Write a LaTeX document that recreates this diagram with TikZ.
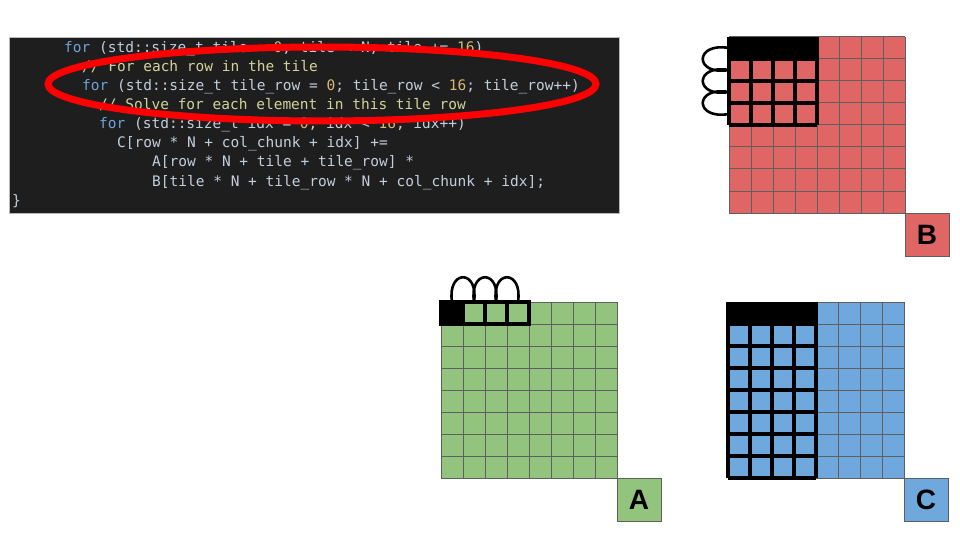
\documentclass[tikz,border=0pt]{standalone}
\usepackage{fontspec}
\newfontfamily\codefont{DejaVu Sans Mono}
\newfontfamily\labfont{Liberation Sans}
\definecolor{cbg}{HTML}{1E1E1E}
\definecolor{ctxt}{HTML}{C3CEDC}
\definecolor{ckwc}{HTML}{6FA3DA}
\definecolor{cnumc}{HTML}{D8B773}
\definecolor{ccomc}{HTML}{D2D39C}
\definecolor{cA}{HTML}{93C47D}
\definecolor{cB}{HTML}{E06666}
\definecolor{cC}{HTML}{6FA8DC}
\definecolor{gline}{HTML}{5F5F5F}
\definecolor{ovalred}{HTML}{FF0000}
\newcommand\ckw[1]{\textcolor{ckwc}{#1}}
\newcommand\cnum[1]{\textcolor{cnumc}{#1}}
\newcommand\ccom[1]{\textcolor{ccomc}{#1}}
\tikzset{
  codeline/.style={anchor=base west, inner sep=0pt, text=ctxt, font=\codefont\fontsize{14.5}{19}\selectfont},
  gridline/.style={draw=gline, line width=1pt},
  boldline/.style={draw=black, line width=3.4pt, line cap=square},
  loopline/.style={draw=black, line width=2.6pt},
  labbox/.style={draw=gline, line width=1pt, minimum width=44pt, minimum height=43pt, inner sep=0pt, font=\labfont\bfseries\fontsize{28}{28}\selectfont, text=black}
}
\newcommand\drawmygrid[3]{%
  \fill[#3] (#1,#2) rectangle ++(176,176);
  \foreach \i in {0,...,8} {
    \draw[gridline] ({#1+22*\i},#2) -- ++(0,176);
    \draw[gridline] (#1,{#2+22*\i}) -- ++(176,0);
  }
}
\begin{document}
\begin{tikzpicture}[x=1pt,y=-1pt]
\useasboundingbox (0,0) rectangle (960,540);
% ---------- code block ----------
\node[fill=cbg, draw=gray!55, line width=0.6pt, minimum width=610pt, minimum height=176pt, anchor=north west, inner sep=0pt] (code) at (9,37) {};
\node[codeline] (l1) at (64,53) {\ckw{for} (std::size\_t tile = \cnum{0}; tile < N; tile += \cnum{16})};
\node[codeline] (l2) at (82,72) {\ccom{// For each row in the tile}};
\node[codeline] (l3) at (82,91) {\ckw{for} (std::size\_t tile\_row = \cnum{0}; tile\_row < \cnum{16}; tile\_row++)};
\node[codeline] (l4) at (99,110) {\ccom{// Solve for each element in this tile row}};
\node[codeline] (l5) at (99,129) {\ckw{for} (std::size\_t idx = \cnum{0}; idx < \cnum{16}; idx++)};
\node[codeline] (l6) at (117,148) {C[row * N + col\_chunk + idx] +=};
\node[codeline] (l7) at (152,167) {A[row * N + tile + tile\_row] *};
\node[codeline] (l8) at (152,186) {B[tile * N + tile\_row * N + col\_chunk + idx];};
\node[codeline] (l9) at (12,205) {\}};
% red oval
\draw[ovalred, line width=7pt] (322,84) ellipse [x radius=274, y radius=37];
% ---------- matrix B ----------
\drawmygrid{729}{37}{cB}
\fill[black] (729,37) rectangle (817,59);
\foreach \i in {0,...,4} \draw[boldline] ({729+22*\i},37) -- ({729+22*\i},125);
\foreach \j in {1,...,4} \draw[boldline] (729,{37+22*\j}) -- (817,{37+22*\j});
\coordinate (b1) at (729,48);
\coordinate (b2) at (729,70);
\coordinate (b3) at (729,92);
\coordinate (b4) at (729,114);
\draw[loopline] (b1) .. controls +(-35,-6) and +(-35,6) .. (b2);
\draw[loopline] (b2) .. controls +(-35,-6) and +(-35,6) .. (b3);
\draw[loopline] (b3) .. controls +(-35,-6) and +(-35,6) .. (b4);
\node[labbox, fill=cB] (labB) at (927,234.5) {B};
% ---------- matrix A ----------
\drawmygrid{441}{302}{cA}
\fill[black] (441,302) rectangle (463,324);
\draw[boldline] (441,302) rectangle (529,324);
\foreach \i in {1,2,3} \draw[boldline] ({441+22*\i},302) -- ({441+22*\i},324);
\coordinate (a1) at (452,302);
\coordinate (a2) at (474,302);
\coordinate (a3) at (496,302);
\coordinate (a4) at (518,302);
\draw[loopline] (a1) .. controls +(-5,-33) and +(5,-33) .. (a2);
\draw[loopline] (a2) .. controls +(-5,-33) and +(5,-33) .. (a3);
\draw[loopline] (a3) .. controls +(-5,-33) and +(5,-33) .. (a4);
\node[labbox, fill=cA] (labA) at (639,499.5) {A};
% ---------- matrix C ----------
\drawmygrid{728}{302}{cC}
\fill[black] (728,302) rectangle (816,324);
\foreach \i in {0,...,4} \draw[boldline] ({728+22*\i},302) -- ({728+22*\i},478);
\foreach \j in {1,...,8} \draw[boldline] (728,{302+22*\j}) -- (816,{302+22*\j});
\node[labbox, fill=cC] (labC) at (926,499.5) {C};
\end{tikzpicture}
\end{document}
